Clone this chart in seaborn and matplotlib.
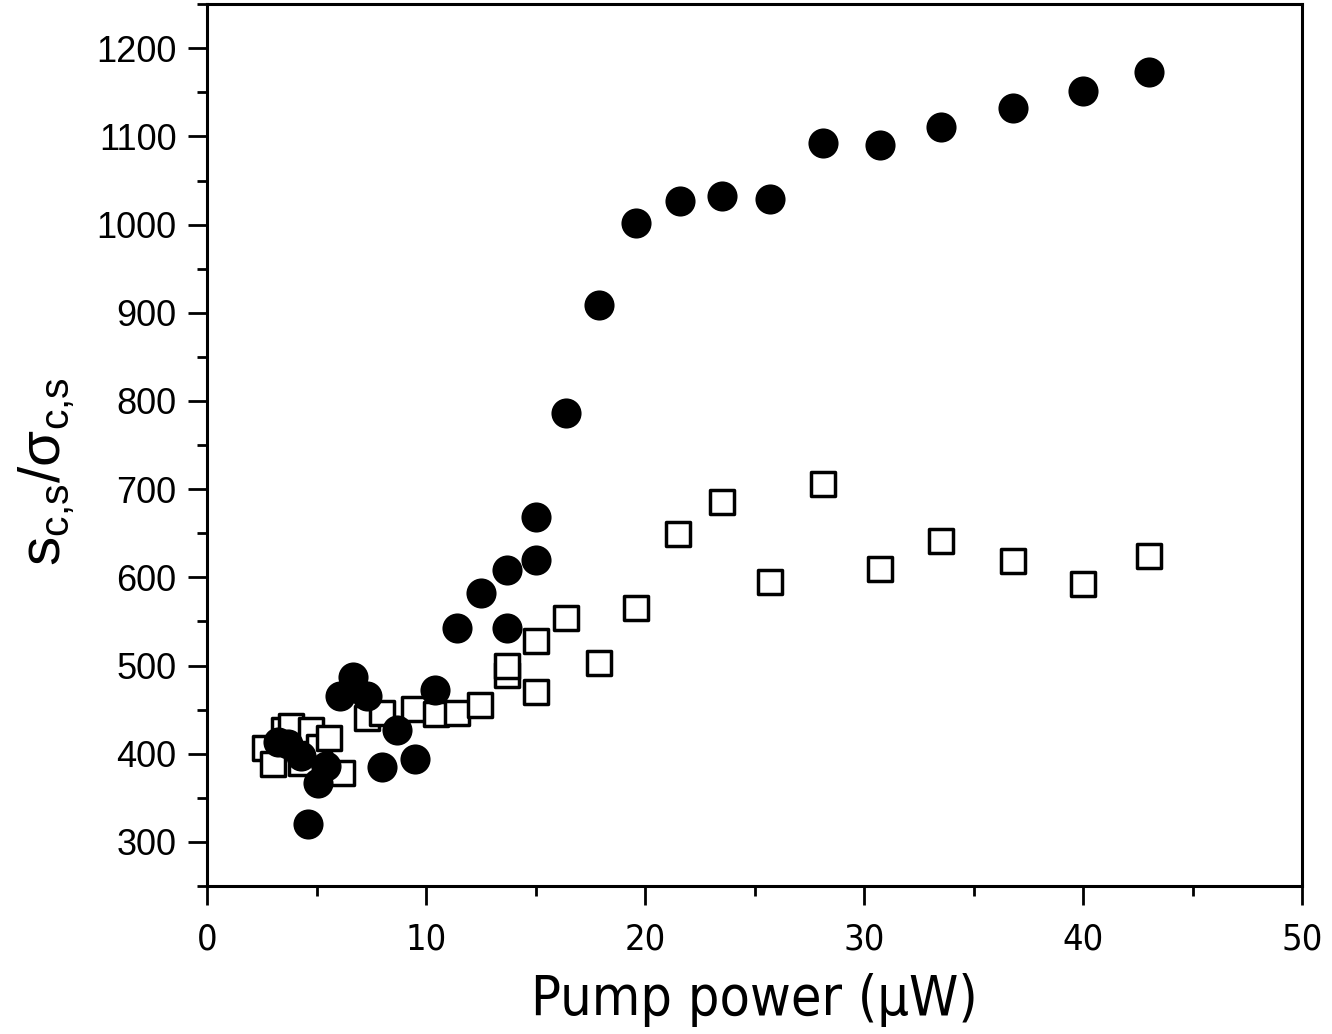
import pandas as pd
import seaborn as sns
import matplotlib.pyplot as plt
from matplotlib.ticker import MultipleLocator

# filled circles
circ_x = [3.25, 3.7, 4.3, 4.6, 5.05, 5.45, 6.05, 6.65, 7.3, 8.0, 8.65, 9.5, 10.4,
          11.4, 12.5, 13.7, 13.7, 15.0, 15.0, 16.4, 17.9, 19.6, 21.6, 23.5, 25.7,
          28.1, 30.7, 33.5, 36.8, 40.0, 43.0]
circ_y = [413, 411, 398, 320, 367, 386, 466, 487, 466, 385, 427, 394, 472,
          543, 582, 543, 608, 620, 668, 786, 909, 1002, 1027, 1032, 1029,
          1092, 1090, 1111, 1132, 1152, 1173]

# open squares
sq_x = [2.65, 3.0, 3.5, 3.85, 4.3, 4.75, 5.1, 5.55, 6.15, 7.3, 8.0, 9.45, 10.45,
        11.4, 12.45, 13.7, 13.7, 15.0, 15.0, 16.4, 17.9, 19.6, 21.5, 23.5, 25.7,
        28.1, 30.7, 33.5, 36.8, 40.0, 43.0]
sq_y = [407, 388, 427, 432, 390, 427, 408, 418, 378, 441, 446, 451, 445,
        446, 455, 489, 500, 470, 528, 554, 503, 565, 649, 686, 595,
        706, 610, 641, 618, 593, 624]

sns.set_style("ticks")
plt.rcParams['font.family'] = ['Liberation Sans', 'DejaVu Sans']
plt.rcParams['text.color'] = 'black'
plt.rcParams['axes.labelcolor'] = 'black'
plt.rcParams['xtick.color'] = 'black'
plt.rcParams['ytick.color'] = 'black'
plt.rcParams['axes.edgecolor'] = 'black'

fig = plt.figure(figsize=(13.32, 10.34), dpi=100)
ax = fig.add_axes([0.1554, 0.1431, 0.8224, 0.8529])

df_sq = pd.DataFrame({"x": sq_x, "y": sq_y})
df_c = pd.DataFrame({"x": circ_x, "y": circ_y})
sns.scatterplot(data=df_sq, x="x", y="y", marker="s", s=290, facecolor="white",
                edgecolor="black", linewidth=2.5, ax=ax, zorder=2)
sns.scatterplot(data=df_c, x="x", y="y", marker="o", s=470, color="black",
                edgecolor="black", linewidth=0, ax=ax, zorder=3)

ax.set_xlim(0, 50)
ax.set_ylim(250, 1250)
ax.xaxis.set_major_locator(MultipleLocator(10))
ax.xaxis.set_minor_locator(MultipleLocator(5))
ax.yaxis.set_minor_locator(MultipleLocator(50))
ax.set_yticks(range(300, 1201, 100))

for sp in ax.spines.values():
    sp.set_linewidth(2.2)
ax.tick_params(which="major", length=14, width=2, direction="out", pad=8)
ax.tick_params(which="minor", length=7, width=2, direction="out")
ax.tick_params(axis="y", labelsize=26)
ax.tick_params(axis="x", labelsize=26, pad=12)
for lab in ax.get_xticklabels():
    lab.set_family('DejaVu Sans')
    lab.set_stretch('condensed')

ax.set_xlabel("Pump power (\u03bcW)", fontsize=40, family='DejaVu Sans',
              fontstretch='condensed', labelpad=12)
ax.set_ylabel(r"$\mathregular{s_{c{,}s}/\sigma_{c{,}s}}$", fontsize=42)
ax.yaxis.set_label_coords(-0.12, 0.47)

plt.savefig("out.png", dpi=100)
